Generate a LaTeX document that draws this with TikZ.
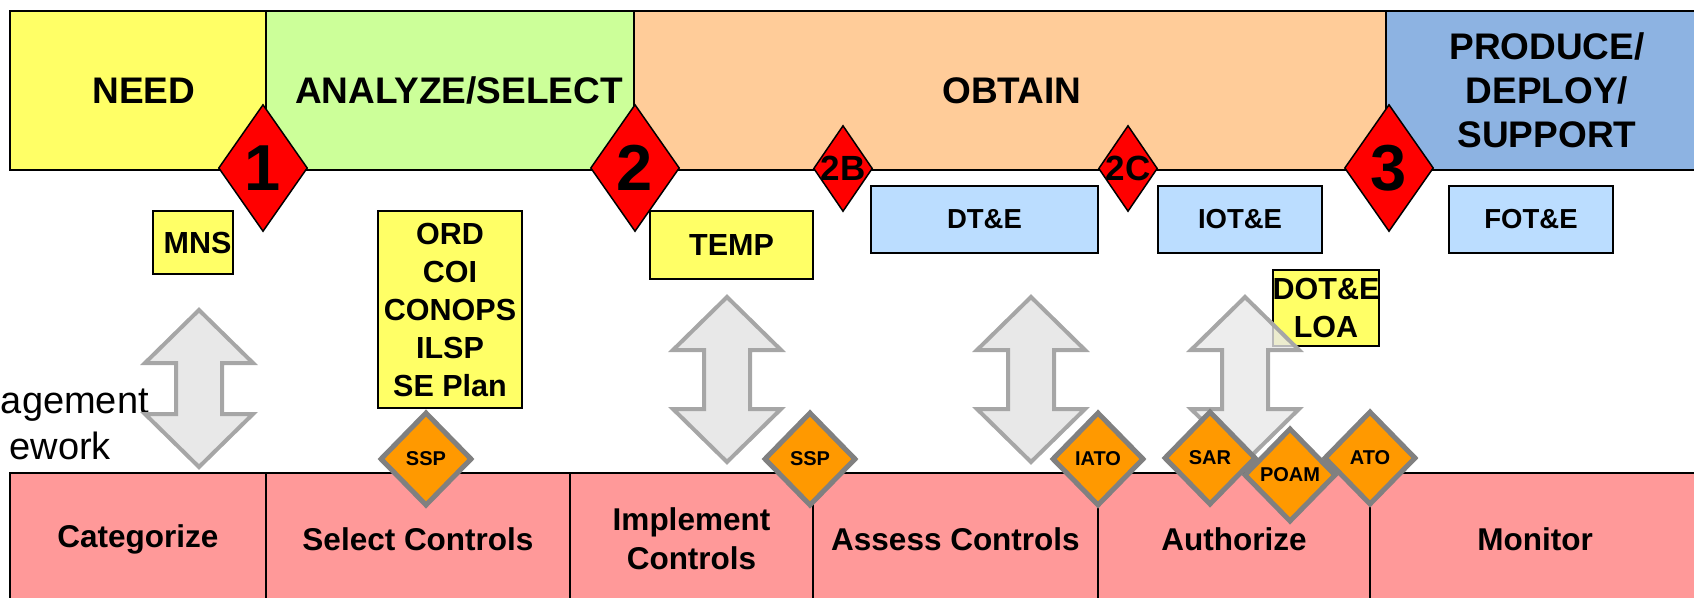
\documentclass[tikz,border=0pt]{standalone}
\usepackage{fontspec}
\setmainfont{Liberation Sans}
\usepackage{tikz}
\usetikzlibrary{shapes.geometric, positioning}

\definecolor{needyellow}{HTML}{FFFF66}
\definecolor{selectgreen}{HTML}{CCFF99}
\definecolor{obtainorange}{HTML}{FFCC99}
\definecolor{deployblue}{HTML}{8DB3E2}
\definecolor{testblue}{HTML}{BBDDFF}
\definecolor{milestonered}{HTML}{FF0000}
\definecolor{rmfpink}{HTML}{FF9999}
\definecolor{gateorange}{HTML}{FF9900}
\definecolor{gategray}{HTML}{808080}
\definecolor{arrowgray}{HTML}{A6A6A6}
\definecolor{arrowfill}{HTML}{E8E8E8}

% centre x, top tip, bottom tip
\newcommand{\syncpair}[3]{%
    \draw[syncarrow] (#1,#2) -- ++(54,53) -- ++(-31,0) -- (#1+23,#3-53) -- ++(31,0)
        -- (#1,#3) -- ++(-54,-53) -- ++(31,0) -- (#1-23,#2+53) -- ++(-31,0) -- cycle;
}

\begin{document}
\begin{tikzpicture}[x=1pt, y=-1pt,
    phase/.style={draw, line width=2pt, inner sep=0pt, outer sep=0pt, align=center,
        minimum height=159pt, font=\bfseries\fontsize{37}{44}\selectfont},
    milestone/.style={diamond, draw, line width=1.5pt, fill=milestonered, inner sep=0pt,
        minimum width=89pt, minimum height=127pt, font=\bfseries\fontsize{65}{65}\selectfont},
    submilestone/.style={milestone, minimum width=59pt, minimum height=86pt,
        font=\bfseries\fontsize{35}{35}\selectfont},
    testbox/.style={draw, line width=2pt, fill=testblue, inner sep=0pt,
        minimum height=67pt, font=\bfseries\fontsize{27.5}{33}\selectfont},
    docbox/.style={draw, line width=2pt, fill=needyellow, inner sep=0pt, align=center,
        font=\bfseries\fontsize{30.5}{38}\selectfont},
    rmfstep/.style={draw, line width=2pt, fill=rmfpink, inner sep=0pt, outer sep=0pt,
        align=center, minimum height=132pt, font=\bfseries\fontsize{31.5}{39}\selectfont},
    gate/.style={diamond, draw=gategray, line width=5pt, fill=gateorange, inner sep=0pt,
        minimum width=92pt, minimum height=94pt, font=\bfseries\fontsize{20}{20}\selectfont},
    syncarrow/.style={draw=arrowgray, line width=4pt, fill=arrowfill, line join=miter},
    sidenote/.style={anchor=base east, inner sep=0pt, font=\fontsize{38}{46}\selectfont}
]
    \useasboundingbox (0,0) rectangle (1694,597);
    \clip (0,0) rectangle (1694,597);

    \node[phase, fill=needyellow, minimum width=256pt] (need) at (138,90.5) {\hspace*{12pt}NEED};
    \node[phase, fill=selectgreen, minimum width=368pt, right=0pt of need] (select) {\hspace*{18pt}ANALYZE/SELECT};
    \node[phase, fill=obtainorange, minimum width=752pt, right=0pt of select] (obtain) {\hspace*{4pt}OBTAIN};
    \node[phase, fill=deployblue, minimum width=314pt, right=0pt of obtain] (deploy)
        {\hspace*{8pt}PRODUCE/\\\hspace*{8pt}DEPLOY/\\\hspace*{8pt}SUPPORT};

    \node[docbox, minimum width=80pt, minimum height=63pt] (mns) at (193,242.5) {\hspace*{9pt}MNS};
    \node[docbox, minimum width=144pt, minimum height=197pt] (ord) at (450,309.5)
        {ORD\\COI\\CONOPS\\ILSP\\SE Plan};
    \node[docbox, minimum width=163pt, minimum height=68pt] (temp) at (731.5,245) {TEMP};
    \node[docbox, minimum width=104pt, minimum height=76pt] (dote) at (1326,308) {DOT\&E\\LOA};

    \node[testbox, minimum width=227pt] (dte) at (984.5,219.5) {DT\&E};
    \node[testbox, minimum width=164pt] (iote) at (1240,219.5) {IOT\&E};
    \node[testbox, minimum width=164pt] (fote) at (1531,219.5) {FOT\&E};

    \node[milestone] (ms1) at (263,168) {1};
    \node[milestone] (ms2) at (635,168) {2};
    \node[milestone] (ms3) at (1389,168) {3};
    \node[submilestone] (ms2b) at (843,168.5) {\makebox[0pt]{2B}};
    \node[submilestone] (ms2c) at (1128,168.5) {\makebox[0pt]{2C}};

    \node[sidenote] (mgmt) at (149,413) {agement};
    \node[sidenote] (frame) at (111,459) {ework};

    \syncpair{199}{310}{467}
    \syncpair{727}{297}{462}
    \syncpair{1031}{297}{462}
    \begin{scope}[fill opacity=0.8]
        \syncpair{1245}{297}{462}
    \end{scope}

    \node[rmfstep, minimum width=256pt] (categorize) at (138,539) {Categorize};
    \node[rmfstep, minimum width=304pt, right=0pt of categorize] (selectctl) {Select Controls};
    \node[rmfstep, minimum width=243pt, right=0pt of selectctl] (implement) {Implement\\Controls};
    \node[rmfstep, minimum width=285pt, right=0pt of implement] (assess) {Assess Controls};
    \node[rmfstep, minimum width=272pt, right=0pt of assess] (authorize) {Authorize};
    \node[rmfstep, minimum width=330pt, right=0pt of authorize] (monitor) {Monitor};

    \node[gate] (ssp1) at (426,459) {SSP};
    \node[gate] (ssp2) at (810,459) {SSP};
    \node[gate] (iato) at (1098,459) {IATO};
    \node[gate] (sar) at (1210,458) {SAR};
    \node[gate] (ato) at (1370,458) {ATO};
    \node[gate] (poam) at (1290,475) {POAM};
\end{tikzpicture}
\end{document}
